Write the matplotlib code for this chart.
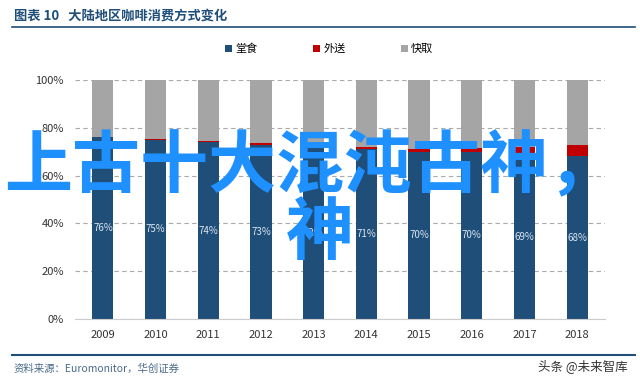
import numpy as np
import matplotlib
matplotlib.use("Agg")
import matplotlib.pyplot as plt

plt.rcParams['font.family'] = ['Noto Sans CJK SC', 'DejaVu Sans']

years = ['2009', '2010', '2011', '2012', '2013', '2014', '2015', '2016', '2017', '2018']
dine_in = [76, 75, 74, 73, 72, 71, 70, 70, 69, 68]
delivery = [0.3, 0.3, 0.4, 0.6, 0.8, 0.9, 1.0, 1.5, 2.8, 5.0]
takeaway = [100 - a - b for a, b in zip(dine_in, delivery)]
series_names = ['堂食', '外送', '快取']
colors = ['#1F4E79', '#C00000', '#A5A5A5']

fig = plt.figure(figsize=(6.4, 3.85), dpi=100)
ax = fig.add_axes([75/640, 1-319/385, 530/640, 239/385])

x = np.arange(len(years))
w = 0.4
d = np.array(dine_in) / 100
dl = np.array(delivery) / 100
t = np.array(takeaway) / 100
ax.bar(x, d, w, color=colors[0], label=series_names[0], zorder=2)
ax.bar(x, dl, w, bottom=d, color=colors[1], label=series_names[1], zorder=2)
ax.bar(x, t, w, bottom=d + dl, color=colors[2], label=series_names[2], zorder=2)

for i, v in enumerate(dine_in):
    ax.text(x[i], v / 200, f'{v}%', ha='center', va='center', color='#dde6f0', fontsize=7, zorder=3)

ax.set_xlim(-0.53, 9.53)
ax.set_ylim(0, 1)
ax.set_yticks(np.arange(0, 1.01, 0.2))
ax.set_yticklabels([f'{int(round(v*100))}%' for v in np.arange(0, 1.01, 0.2)], fontsize=8, color='#333333')
ax.set_xticks(x)
ax.set_xticklabels(years, fontsize=8, color='#333333')
ax.tick_params(length=0, pad=8)
ax.yaxis.grid(True, linestyle=(0, (4, 3)), color='#aaaaaa', linewidth=0.8, zorder=0)
for s in ['top', 'right', 'left']:
    ax.spines[s].set_visible(False)
ax.spines['bottom'].set_color('#cccccc')

ax.legend(loc='center', bbox_to_anchor=(0.48, (319-49)/239), ncol=3, frameon=False,
          fontsize=8, handlelength=0.6, handleheight=0.6, columnspacing=5, handletextpad=0.3)

# header / footer
fig.text(14/640, 1-16/385, '图表 10   大陆地区咖啡消费方式变化', fontsize=9.5, fontweight='bold',
         color='#1F4E79', va='center', ha='left')
fig.add_artist(plt.Line2D([12/640, 635/640], [1-27/385, 1-27/385], color='#1F4E79', linewidth=1.2))
fig.add_artist(plt.Line2D([12/640, 635/640], [1-355/385, 1-355/385], color='#1F4E79', linewidth=1.5))
fig.text(14/640, 1-369/385, '资料来源：Euromonitor，华创证券', fontsize=7.5, style='italic',
         color='#4a6a8a', va='center', ha='left')
fig.text(628/640, 1-366/385, '头条 @未来智库', fontsize=9, color='#333333', va='center', ha='right')

# overlay text
fig.text(4/640, 1-168/385, '上古十大混沌古神，', fontsize=49, fontweight='bold',
         color='#1E90FF', ha='left', va='center')
fig.text(320/640, 1-234/385, '神', fontsize=49, fontweight='bold',
         color='#1E90FF', ha='center', va='center')

fig.savefig('out.png', dpi=100)
